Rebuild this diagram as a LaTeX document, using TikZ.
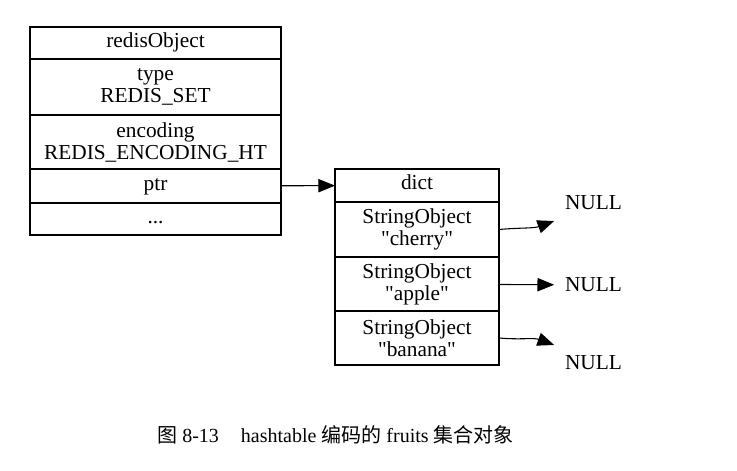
\documentclass[tikz,border=0pt]{standalone}
\usepackage{fontspec}
\setmainfont{Liberation Serif}
\newfontfamily\cjk{Noto Sans CJK SC}
\usetikzlibrary{arrows.meta, positioning}

\begin{document}
\begin{tikzpicture}[
  x=0.75pt, y=-0.75pt,
  font=\fontsize{16}{16.5}\selectfont,
  field/.style={draw, line width=0.8pt, minimum width=188.25pt, inner sep=0pt, outer sep=0pt, align=center},
  slot/.style={draw, line width=0.8pt, minimum width=123pt, inner sep=0pt, outer sep=0pt, align=center},
  null/.style={inner sep=8pt},
  edge/.style={-{Triangle[length=12.5pt, width=10pt]}, line width=0.8pt}
]
\useasboundingbox (0,0) rectangle (737,470);

% redisObject
\node[field, minimum height=24pt, anchor=north] (obj) at (155.5,27) {\strut redisObject};
\node[field, minimum height=42pt, below=0pt of obj] (type) {type\\REDIS\_SET};
\node[field, minimum height=40.5pt, below=0pt of type] (enc) {encoding\\REDIS\_ENCODING\_HT};
\node[field, minimum height=25.5pt, below=0pt of enc] (ptr) {\strut ptr};
\node[field, minimum height=24pt, below=0pt of ptr] (more) {\strut ...};

% dict
\node[slot, minimum height=24.75pt, anchor=north] (dict) at (417,169) {\strut dict};
\node[slot, minimum height=41.25pt, below=0pt of dict] (cherry) {StringObject\\\textquotedbl cherry\textquotedbl};
\node[slot, minimum height=40.5pt, below=0pt of cherry] (apple) {StringObject\\\textquotedbl apple\textquotedbl};
\node[slot, minimum height=40.5pt, below=0pt of apple] (banana) {StringObject\\\textquotedbl banana\textquotedbl};

\node[null] (null1) at (593.5,203) {NULL};
\node[null] (null2) at (593.5,285) {NULL};
\node[null] (null3) at (593.5,363) {NULL};

\draw[edge] (ptr) -- (dict);
\draw[edge] (cherry.east) to[out=5, in=200] (null1.south west);
\draw[edge] (apple) -- (null2);
\draw[edge] (banana.east) to[out=-5, in=160] (null3.north west);

\node[font=\fontsize{15}{16}\selectfont] (caption) at (335.5,435)
  {{\cjk 图} 8-13\hspace{1.1em}hashtable {\cjk 编码的} fruits {\cjk 集合对象}};
\end{tikzpicture}
\end{document}
